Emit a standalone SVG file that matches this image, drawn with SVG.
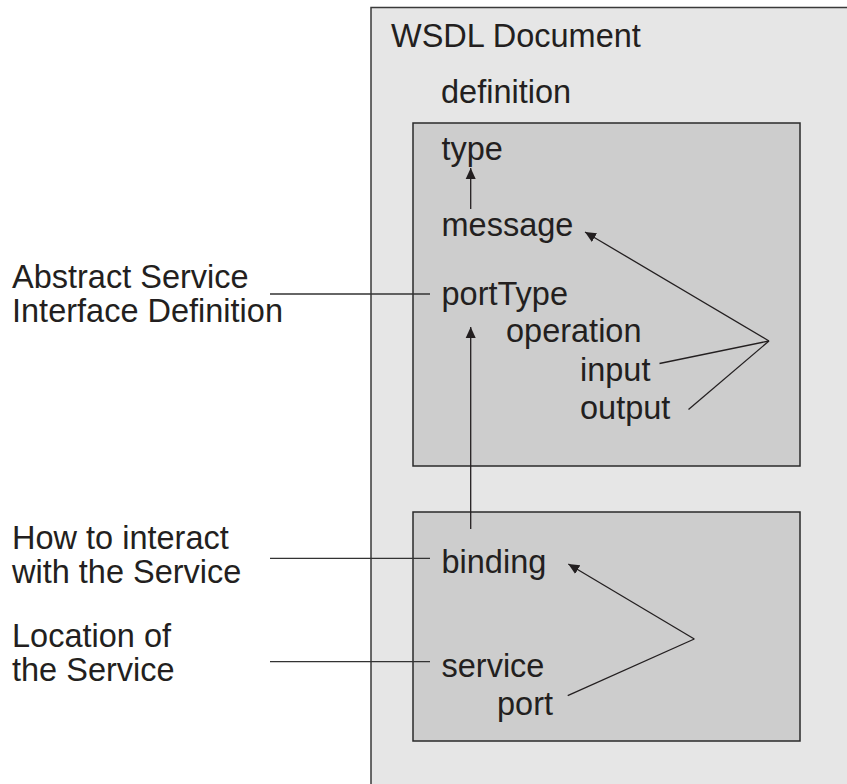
<svg xmlns="http://www.w3.org/2000/svg" width="847" height="784" viewBox="0 0 847 784">
  <style>
    text { font-family: "Liberation Sans", Arial, sans-serif; font-size: 32.5px; fill: #231f20; }
    .outer { fill: #e6e6e6; stroke: #3a3a3a; stroke-width: 1.5; }
    .inner { fill: #cdcdcd; stroke: #2a2a2a; stroke-width: 1.5; }
    .conn { fill: none; stroke: #231f20; stroke-width: 1.3; }
    .lead { fill: none; stroke: #333; stroke-width: 1.3; }
  </style>
  <defs>
    <marker id="arrow" markerUnits="userSpaceOnUse" markerWidth="12" markerHeight="12" viewBox="0 0 12 12" refX="11" refY="6" orient="auto">
      <path d="M0,1 L11,6 L0,11 Z" fill="#231f20"/>
    </marker>
  </defs>
  <rect width="847" height="784" fill="#ffffff"/>

  <!-- WSDL document frame -->
  <g id="wsdl-document">
    <rect class="outer" x="371" y="7.5" width="490" height="790"/>
    <text x="391" y="47">WSDL Document</text>
    <text x="441" y="103">definition</text>
  </g>

  <!-- abstract part: types, messages, port types -->
  <g id="abstract-definitions">
    <rect class="inner" x="413" y="123" width="387" height="343"/>
    <text x="441.5" y="160">type</text>
    <text x="441.5" y="236">message</text>
    <text x="441.5" y="305">portType</text>
    <text x="506" y="342">operation</text>
    <text x="580" y="381">input</text>
    <text x="580" y="419">output</text>
  </g>

  <!-- concrete part: binding and service -->
  <g id="concrete-definitions">
    <rect class="inner" x="413" y="512" width="387" height="229"/>
    <text x="441.5" y="573">binding</text>
    <text x="441.5" y="677">service</text>
    <text x="497" y="715">port</text>
  </g>

  <!-- side labels -->
  <g id="label-abstract">
    <text x="12" y="288">Abstract Service</text>
    <text x="12" y="322">Interface Definition</text>
  </g>
  <g id="label-binding">
    <text x="12" y="549">How to interact</text>
    <text x="12" y="583">with the Service</text>
  </g>
  <g id="label-service">
    <text x="12" y="647">Location of</text>
    <text x="12" y="681">the Service</text>
  </g>

  <g id="connectors">
    <!-- references between elements -->
    <line class="conn" x1="470.7" y1="209" x2="470.7" y2="168" marker-end="url(#arrow)"/>
    <line class="conn" x1="470.7" y1="529" x2="470.7" y2="327" marker-end="url(#arrow)"/>
    <polyline class="conn" points="659.5,363.5 769,341"/>
    <polyline class="conn" points="688.5,409.5 769,341"/>
    <line class="conn" x1="769" y1="341" x2="585" y2="232" marker-end="url(#arrow)"/>
    <line class="conn" x1="567.7" y1="695.7" x2="694.3" y2="639"/>
    <line class="conn" x1="694.3" y1="639" x2="568.3" y2="564" marker-end="url(#arrow)"/>
    <!-- leader lines from the side labels -->
    <line class="lead" x1="270" y1="294" x2="430" y2="294"/>
    <line class="lead" x1="270" y1="558.3" x2="430" y2="558.3"/>
    <line class="lead" x1="270" y1="661.7" x2="430" y2="661.7"/>
  </g>
</svg>
